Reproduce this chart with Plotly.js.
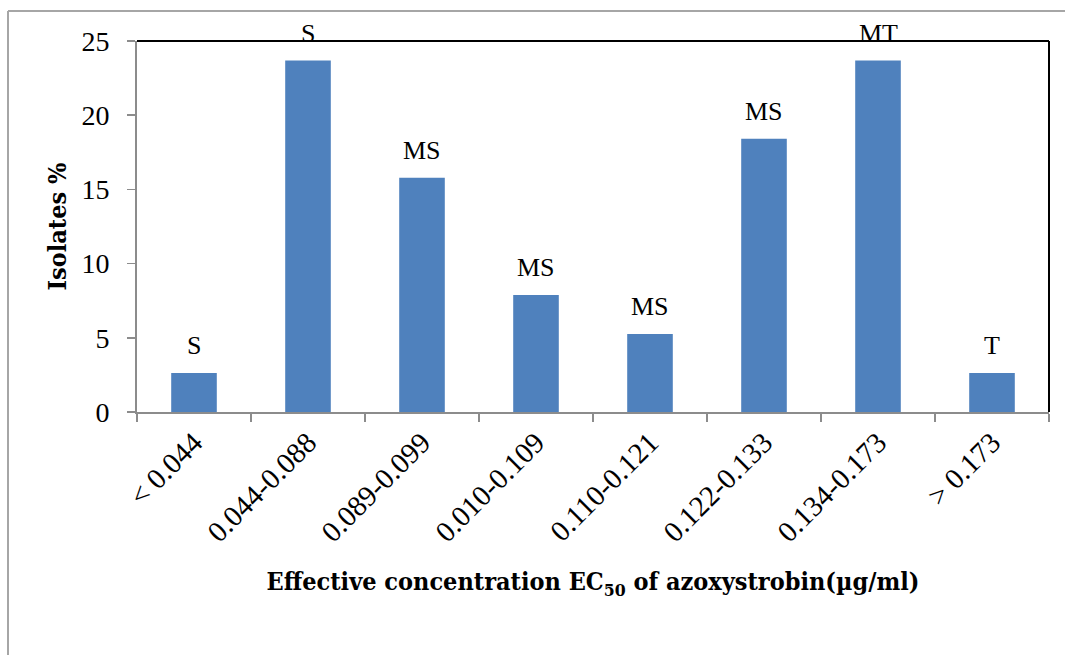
<!DOCTYPE html>
<html>
<head>
<meta charset="utf-8">
<script src="https://cdn.plot.ly/plotly-3.0.1.min.js"></script>
<style>
html,body{margin:0;padding:0;background:#fff;}
#chart{width:1065px;height:655px;}
</style>
</head>
<body>
<div id="chart"></div>
<script>
const categories = ["< 0.044","0.044-0.088","0.089-0.099","0.010-0.109","0.110-0.121","0.122-0.133","0.134-0.173","> 0.173"];
const isolatesPct = [2.63, 23.68, 15.79, 7.89, 5.26, 18.42, 23.68, 2.63];
const classLabels = ["S","S","MS","MS","MS","MS","MT","T"];
const yTicks = [0,5,10,15,20,25];

const font = "Liberation Serif";
const boldFont = "DejaVu Serif Condensed, DejaVu Serif";
const L = 137, R = 1049, T = 41, B = 412;
const pw = R - L, ph = B - T;
const px = x => (x - L) / pw;
const py = y => (B - y) / ph;

const trace = {
  type: "bar",
  x: categories,
  y: isolatesPct,
  marker: {color: "#4f81bd", line: {width: 0}},
  hoverinfo: "x+y"
};

const annotations = categories.map((c, i) => ({
  x: c, y: isolatesPct[i], xref: "x", yref: "y",
  text: classLabels[i], showarrow: false,
  yanchor: "bottom", yshift: 11,
  font: {family: font, size: 26, color: "#000"}
}));

const layout = {
  width: 1065, height: 655,
  margin: {l: L, r: 1065 - R, t: T, b: 655 - B},
  paper_bgcolor: "#fff", plot_bgcolor: "#fff",
  showlegend: false,
  bargap: 0.6,
  xaxis: {
    type: "category",
    tickson: "boundaries",
    ticks: "outside", ticklen: 8, tickcolor: "#8c8c8c", tickwidth: 1.5,
    showline: true, linecolor: "#8c8c8c", linewidth: 2,
    showgrid: false, zeroline: false,
    tickangle: -45,
    tickfont: {family: font, size: 29, color: "#000"},
    title: {text: "Effective concentration EC<sub>50</sub> of azoxystrobin(µg/ml)",
            font: {family: boldFont, size: 25, weight: "bold", color: "#000"}, standoff: 26}
  },
  yaxis: {
    range: [0, 25],
    tickvals: yTicks,
    ticks: "outside", ticklen: 8, tickcolor: "#8c8c8c", tickwidth: 1.5,
    showline: true, linecolor: "#8c8c8c", linewidth: 2,
    showgrid: false, zeroline: false,
    ticklabelstandoff: 12,
    tickfont: {family: font, size: 28, color: "#000"},
    title: {text: "Isolates %", font: {family: boldFont, size: 25, weight: "bold", color: "#000"}, standoff: 8}
  },
  annotations: annotations,
  shapes: [
    {type: "line", xref: "paper", yref: "paper", x0: 0, x1: 1, y0: 1, y1: 1, line: {color: "#000", width: 2}},
    {type: "line", xref: "paper", yref: "paper", x0: 1, x1: 1, y0: 0, y1: 1, line: {color: "#000", width: 2}},
    {type: "line", xref: "paper", yref: "paper", x0: px(8), x1: px(1065), y0: py(11), y1: py(11), line: {color: "#a6a6a6", width: 2}},
    {type: "line", xref: "paper", yref: "paper", x0: px(8), x1: px(8), y0: py(11), y1: py(655), line: {color: "#a6a6a6", width: 2}}
  ]
};

Plotly.newPlot("chart", [trace], layout, {displayModeBar: false, staticPlot: true});
</script>
</body>
</html>
